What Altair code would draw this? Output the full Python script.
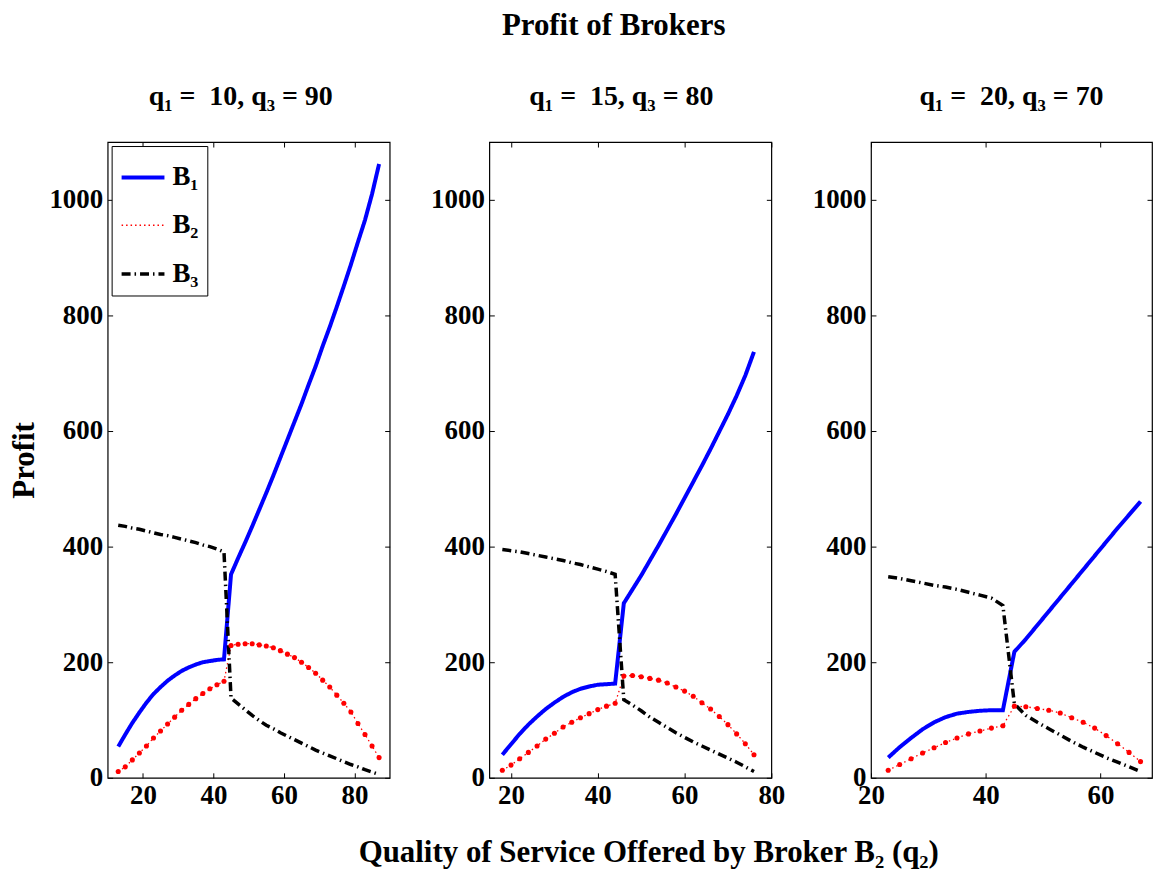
import altair as alt
import pandas as pd

FONT = "Liberation Serif"
SERIES = ["B₁", "B₂", "B₃"]
COLORS = ["#0000ff", "#ff0000", "#000000"]
DASHES = [[1, 0], [1.5, 3], [9, 4, 1.5, 4]]
WIDTHS = [4, 1.3, 3.5]
YTICKS = [0, 200, 400, 600, 800, 1000]

# Panel 1: q1 = 10, q3 = 90
x_p1 = list(range(13, 89, 2))
b1_p1 = [54, 75, 95, 113, 130, 145, 157, 168, 177, 185, 191, 196, 200, 202, 204, 205,
         352, 380, 407, 435, 464, 493, 523, 554, 585, 616, 647, 680, 712, 747, 780, 815,
         851, 888, 927, 965, 1010, 1062]
b2_p1 = [11, 19, 31, 43, 55, 69, 81, 93, 105, 117, 127, 137, 146, 154, 161, 167,
         229, 231, 232, 232, 230, 228, 225, 220, 214, 208, 200, 191, 181, 169, 157, 143,
         129, 114, 94, 75, 55, 35]
b3_p1 = [437, 435, 432, 430, 427, 424, 421, 419, 416, 413, 410, 407, 403, 400, 396, 391,
         138, 128, 118, 108, 99, 91, 85, 78, 72, 66, 60, 54, 48, 43, 38, 33,
         28, 23, 19, 14, 10, 6]

# Panel 2: q1 = 15, q3 = 80
x_p2 = list(range(18, 78, 2))
b1_p2 = [40, 58, 76, 92, 106, 119, 130, 140, 148, 154, 158, 161, 162, 163,
         302, 326, 350, 376, 402, 429, 456, 484, 512, 540, 569, 599, 629, 661, 696, 737]
b2_p2 = [13, 22, 33, 44, 55, 67, 77, 88, 96, 104, 111, 118, 124, 129,
         176, 177, 175, 172, 169, 164, 157, 150, 141, 130, 119, 106, 92, 76, 59, 40]
b3_p2 = [395, 393, 391, 388, 385, 382, 379, 376, 372, 369, 365, 361, 357, 352,
         135, 126, 116, 105, 96, 87, 78, 70, 62, 55, 48, 41, 34, 27, 19, 11]

# Panel 3: q1 = 20, q3 = 70
x_p3 = list(range(23, 69, 2))
b1_p3 = [35, 53, 69, 84, 96, 105, 111, 114, 116, 117, 117,
         218, 240, 264, 288, 312, 336, 360, 384, 408, 432, 455, 478]
b2_p3 = [13, 23, 33, 43, 52, 61, 69, 76, 81, 86, 90,
         124, 123, 120, 117, 112, 104, 96, 86, 73, 59, 44, 28]
b3_p3 = [348, 345, 341, 337, 333, 330, 326, 321, 316, 311, 298,
         128, 108, 96, 85, 74, 63, 53, 44, 35, 27, 19, 11]

TITLES = ["q₁ = \u00a010, q₃ = 90", "q₁ = \u00a015, q₃ = 80", "q₁ = \u00a020, q₃ = 70"]
TITLE_DX = [-8, -9, 0]
XDOMS = [[10, 90], [15, 80], [20, 69]]
XTICKS = [[20, 40, 60, 80], [20, 40, 60, 80], [20, 40, 60]]
WIDTHS_PX = [283, 283, 282]
HEIGHT = 638


def long(x, b1, b2, b3):
    rows = []
    for s, vals in zip(SERIES, [b1, b2, b3]):
        for xi, v in zip(x, vals):
            rows.append({"q2": xi, "profit": v, "series": s})
    return pd.DataFrame(rows)


def panel(df, i, show_legend, ytitle, xtitle):
    xsc = alt.Scale(domain=XDOMS[i], nice=False, zero=False)
    ysc = alt.Scale(domain=[0, 1100], nice=False, zero=False)
    bottom = alt.Axis(orient="bottom", values=XTICKS[i], format="d", offset=-5, tickSize=5,
                      domain=False, labelPadding=5, labelFlush=False, grid=False, title=xtitle,
                      titlePadding=29, titleFontSize=31, titleX=WIDTHS_PX[i] / 2 + 18)
    top = alt.Axis(orient="top", values=XTICKS[i], offset=-5, tickSize=5, domain=False,
                   labels=False, grid=False, title=None)
    left = alt.Axis(orient="left", values=YTICKS, format="d", offset=-5, tickSize=5,
                    domain=False, labelPadding=5, grid=False, title=ytitle, titlePadding=8,
                    titleFontSize=31)
    right = alt.Axis(orient="right", values=YTICKS, offset=-5, tickSize=5, domain=False,
                     labels=False, grid=False, title=None)
    if show_legend:
        leg = alt.Legend(orient="top-left", title=None, offset=4, padding=8,
                         strokeColor="black", fillColor="white", symbolType="stroke",
                         symbolSize=1849, labelFont=FONT, labelFontSize=27,
                         labelFontWeight="bold", labelColor="black", rowPadding=12,
                         labelOffset=6, cornerRadius=0)
    else:
        leg = None
    base = alt.Chart(df)
    lines = base.mark_line().encode(
        x=alt.X("q2:Q", scale=xsc, axis=bottom),
        y=alt.Y("profit:Q", scale=ysc, axis=left),
        color=alt.Color("series:N", scale=alt.Scale(domain=SERIES, range=COLORS), legend=leg),
        strokeDash=alt.StrokeDash("series:N", scale=alt.Scale(domain=SERIES, range=DASHES), legend=leg),
        strokeWidth=alt.StrokeWidth("series:N", scale=alt.Scale(type="ordinal", domain=SERIES, range=WIDTHS), legend=leg),
        order=alt.Order("q2:Q"),
    )
    pts = base.transform_filter(alt.datum.series == SERIES[1]).mark_circle(
        size=26, color="#ff0000", opacity=1
    ).encode(
        x=alt.X("q2:Q", scale=xsc, axis=top),
        y=alt.Y("profit:Q", scale=ysc, axis=right),
    )
    return alt.layer(lines, pts).resolve_axis(x="independent", y="independent").properties(
        width=WIDTHS_PX[i], height=HEIGHT,
        title=alt.TitleParams(TITLES[i], font=FONT, fontSize=28, fontWeight="bold",
                              color="black", offset=31, anchor="middle", dx=TITLE_DX[i]),
    )


p1 = panel(long(x_p1, b1_p1, b2_p1, b3_p1), 0, True, "Profit", None)
p2 = panel(long(x_p2, b1_p2, b2_p2, b3_p2), 1, False, None,
           "Quality of Service Offered by Broker B₂ (q₂)")
p3 = panel(long(x_p3, b1_p3, b2_p3, b3_p3), 2, False, None, None)

chart = alt.hconcat(p1, p2, p3, spacing=100, bounds="flush").resolve_scale(
    x="independent", y="independent", color="independent",
    strokeDash="independent", strokeWidth="independent"
).resolve_legend(
    color="independent", strokeDash="independent", strokeWidth="independent"
).properties(
    title=alt.TitleParams("Profit of Brokers", font=FONT, fontSize=31, fontWeight="bold",
                          color="black", anchor="middle", offset=40, dx=33),
    padding={"left": 0, "top": 0, "right": 0, "bottom": 0},
    background="white",
).configure_axis(
    labelFont=FONT, labelFontSize=27, labelFontWeight="bold", labelColor="black",
    titleFont=FONT, titleFontWeight="bold", titleColor="black",
    tickColor="black", tickWidth=1,
).configure_view(
    stroke="black", strokeWidth=1.2
)

chart.save("out.html", embed_options={"renderer": "svg", "actions": False})
